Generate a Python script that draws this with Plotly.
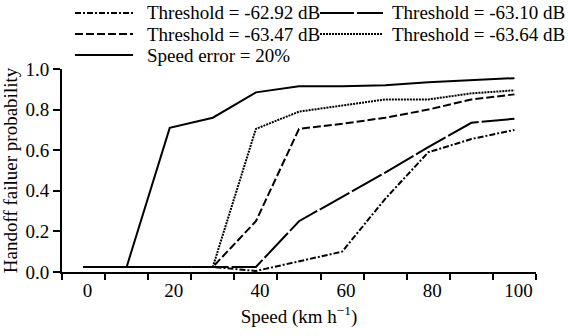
import plotly.graph_objects as go

speed = [0, 10, 20, 30, 40, 50, 60, 70, 80, 90, 100]

names = ["Threshold = -62.92 dB", "Threshold = -63.10 dB",
         "Threshold = -63.47 dB", "Threshold = -63.64 dB",
         "Speed error = 20%"]

p_6292 = [0.025, 0.025, 0.025, 0.025, 0.005, 0.053, 0.10, 0.36, 0.59, 0.655, 0.70]
p_6310 = [0.025, 0.025, 0.025, 0.025, 0.025, 0.25, 0.37, 0.49, 0.615, 0.735, 0.755]
p_6347 = [0.025, 0.025, 0.025, 0.025, 0.25, 0.705, 0.73, 0.76, 0.80, 0.85, 0.875]
p_6364 = [0.025, 0.025, 0.025, 0.025, 0.705, 0.79, 0.82, 0.85, 0.85, 0.88, 0.895]
p_speed = [0.025, 0.025, 0.71, 0.76, 0.885, 0.915, 0.915, 0.92, 0.935, 0.945, 0.955]

series = [p_6292, p_6310, p_6347, p_6364, p_speed]
dashes = ["6px,2px,2px,2px", "34px,3px", "8px,3px", "2px,1px", "solid"]

xticks = [0, 20, 40, 60, 80, 100]
yticks = [0.0, 0.2, 0.4, 0.6, 0.8, 1.0]
ytick_text = ["0.0", "0.2", "0.4", "0.6", "0.8", "1.0"]

FONT = "Liberation Serif"
FS = 19

fig = go.Figure()
for name, ys, dash in zip(names, series, dashes):
    fig.add_trace(go.Scatter(x=speed, y=ys, mode="lines", name=name,
                             line=dict(color="black", width=2, dash=dash),
                             showlegend=False, hoverinfo="skip"))

L, R, T, B = 62, 32, 69, 64
W, H = 568 - L - R, 336 - T - B
def px(x): return (x - L) / W
def py(y): return (T + H - y) / H

legend_pos = [(75, 133, 145, 13), (320, 383, 390, 13),
              (75, 133, 145, 34), (320, 383, 390, 34),
              (75, 133, 145, 55)]
for (x0, x1, xt, yy), name, dash in zip(legend_pos, names, dashes):
    fig.add_shape(type="line", xref="paper", yref="paper",
                  x0=px(x0), x1=px(x1), y0=py(yy), y1=py(yy),
                  line=dict(color="black", width=2, dash=dash))
    fig.add_annotation(xref="paper", yref="paper", x=px(xt), y=py(yy),
                       text=name, showarrow=False, xanchor="left", yanchor="middle",
                       font=dict(family=FONT, size=FS, color="black"))

fig.update_layout(
    width=568, height=336,
    margin=dict(l=L, r=R, t=T, b=B, autoexpand=False),
    paper_bgcolor="white", plot_bgcolor="white",
    font=dict(family=FONT, size=FS, color="black"),
    showlegend=False,
)
fig.update_xaxes(range=[-5, 105], tickvals=xticks, ticktext=[str(v) for v in xticks],
                 ticks="", showgrid=False, zeroline=False, automargin=False,
                 showline=True, linecolor="black", linewidth=2,
                 ticklabelshift=4,
                 minor=dict(tick0=-5, dtick=10, ticks="outside", ticklen=6,
                            tickwidth=2, tickcolor="black", showgrid=False),
                 title=dict(text="Speed (km h<sup>\u22121</sup>)", standoff=10,
                            font=dict(family=FONT, size=FS)),
                 tickfont=dict(family=FONT, size=FS))
fig.update_yaxes(range=[0, 1], tickvals=yticks, ticktext=ytick_text,
                 ticks="outside", ticklen=7, tickwidth=2, tickcolor="black",
                 showgrid=False, zeroline=False, automargin=False,
                 showline=True, linecolor="black", linewidth=2,
                 title=dict(text="Handoff failuer probability", standoff=4,
                            font=dict(family=FONT, size=FS)),
                 tickfont=dict(family=FONT, size=FS))

fig.write_html("out.html", config={"displayModeBar": False},
               post_script="document.body.style.margin='0';document.body.style.padding='0';")
